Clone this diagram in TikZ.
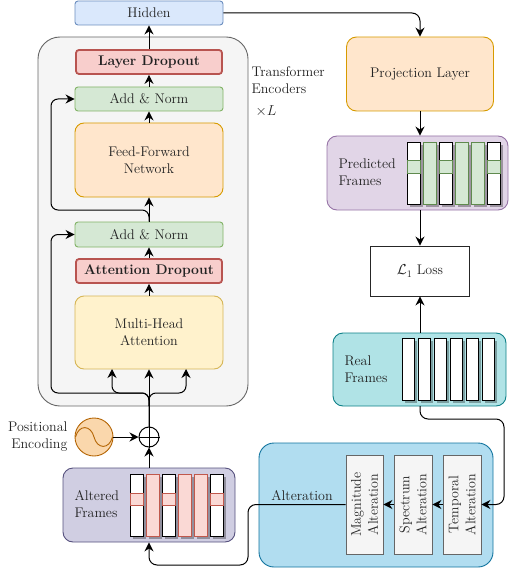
\documentclass[tikz,border=0pt]{standalone}
\usepackage{fontspec}
\usetikzlibrary{arrows.meta}
\definecolor{txt}{HTML}{222222}
\definecolor{hidF}{HTML}{DAE8FC}\definecolor{hidD}{HTML}{6C8EBF}
\definecolor{encF}{HTML}{F5F5F5}\definecolor{encD}{HTML}{666666}
\definecolor{redF}{HTML}{F8CECC}\definecolor{redD}{HTML}{B85450}
\definecolor{grnF}{HTML}{D5E8D4}\definecolor{grnD}{HTML}{82B366}
\definecolor{orgF}{HTML}{FFE6CC}\definecolor{orgD}{HTML}{D79B00}
\definecolor{ylwF}{HTML}{FFF2CC}\definecolor{ylwD}{HTML}{D6B656}
\definecolor{peF}{HTML}{FAD7AC}\definecolor{peD}{HTML}{B46504}
\definecolor{altfF}{HTML}{D0CEE2}\definecolor{altfD}{HTML}{56517E}
\definecolor{prdF}{HTML}{E1D5E7}\definecolor{prdD}{HTML}{9673A6}
\definecolor{realF}{HTML}{B0E3E6}\definecolor{realD}{HTML}{0E8088}
\definecolor{altF}{HTML}{B1DDF0}\definecolor{altD}{HTML}{10739E}
\definecolor{mskF}{HTML}{FAD9D5}\definecolor{mskD}{HTML}{C0584C}
\definecolor{gmskD}{HTML}{5F8A4E}
\tikzset{
  box/.style={draw, rectangle, rounded corners=3pt, inner sep=0pt, line width=0.9pt, align=center, text=txt},
  arr/.style={-{Stealth[length=9pt,width=9pt,inset=3pt]}, line width=1pt},
  shad/.style={fill=black, opacity=0.3},
  wbar/.style={draw=black, fill=white, line width=0.9pt},
}
\begin{document}
\begin{tikzpicture}[x=1pt,y=-1pt,font=\fontsize{14}{17}\selectfont]
\useasboundingbox (0,0) rectangle (509,572);

% encoder container
\node[box, fill=encF, draw=encD, rounded corners=22pt, minimum width=210pt, minimum height=369pt] (enc) at (143,221.5) {};
\node[text=txt, align=left, anchor=west] (enctxt) at (248,80.5) {Transformer\\Encoders};
\node[text=txt] (times) at (266,111) {$\times L$};

\node[box, fill=hidF, draw=hidD, minimum width=148pt, minimum height=24pt] (hid) at (149,13) {Hidden};
\node[box, fill=redF, draw=redD, line width=1.8pt, minimum width=146pt, minimum height=24pt, font=\fontsize{14}{17}\selectfont\bfseries] (ld) at (149,62) {Layer Dropout};
\node[box, fill=grnF, draw=grnD, minimum width=148pt, minimum height=24pt] (an1) at (149,99) {Add \& Norm};
\node[box, fill=orgF, draw=orgD, rounded corners=9pt, minimum width=148pt, minimum height=74pt] (ffn) at (149,160) {Feed-Forward\\Network};
\node[box, fill=grnF, draw=grnD, minimum width=148pt, minimum height=25pt] (an2) at (149,234.5) {Add \& Norm};
\node[box, fill=redF, draw=redD, line width=1.8pt, minimum width=146pt, minimum height=24pt, font=\fontsize{14}{17}\selectfont\bfseries] (ad) at (149,271) {Attention Dropout};
\node[box, fill=ylwF, draw=ylwD, rounded corners=9pt, minimum width=148pt, minimum height=73pt] (mha) at (149,332.5) {Multi-Head\\Attention};

% encoder arrows
\draw[arr] (ld.north) -- (hid.south);
\draw[arr] (an1.north) -- (ld.south);
\draw[arr] (ffn.north) -- (an1.south);
\draw[arr] (an2.north) -- (ffn.south);
\draw[arr] (ad.north) -- (an2.south);
\draw[arr] (mha.north) -- (ad.south);
\draw[arr, rounded corners=7pt] (an2.north) -- (149,210) -- (51,210) -- (51,99) -- (an1.west);

% positional encoding and sum
\node[circle, draw=black, line width=1pt, minimum size=20pt, inner sep=0pt] (op) at (149,437) {};
\draw[line width=1pt] (op.north) -- (op.south) (op.west) -- (op.east);
\node[circle, draw=peD, fill=peF, line width=0.9pt, minimum size=38pt, inner sep=0pt] (pe) at (94,437) {};
\draw[peD, line width=0.9pt] (75.5,437) .. controls (79,424) and (91,425) .. (94,437) .. controls (97,449) and (109,450) .. (112.5,437);
\node[text=txt, align=right, anchor=east] (petxt) at (71,437) {Positional\\Encoding};
\draw[arr] (pe.east) -- (op.west);

% inputs to MHA
\draw[arr, rounded corners=7pt] (op.north) -- (149,393) -- (51,393) -- (51,234.5) -- (an2.west);
\draw[arr, rounded corners=7pt] (149,406) -- (149,393) -- (112,393) -- (112,369);
\draw[arr, rounded corners=7pt] (149,406) -- (149,393) -- (186,393) -- (186,369);
\draw[arr] (op.north) -- (mha.south);

% altered frames
\node[box, fill=altfF, draw=altfD, rounded corners=10pt, minimum width=172pt, minimum height=74pt] (afr) at (149,505) {};
\node[text=txt, align=left, anchor=west] (afrtxt) at (71,504.5) {Altered\\Frames};
\foreach \x in {130,146,162,178,194,210} {\fill[shad] (\x+3,477) rectangle ++(13,62);}
\foreach \x/\t in {130/0,146/1,162/0,178/1,194/1,210/0} {
  \ifnum\t=1
    \draw[draw=mskD, fill=mskF, line width=0.9pt] (\x,474) rectangle ++(13,62);
  \else
    \draw[wbar] (\x,474) rectangle ++(13,62);
    \draw[draw=mskD, fill=mskF, line width=0.9pt] (\x,493) rectangle ++(13,12);
  \fi
}
\draw[arr] (afr.north) -- (op.south);

% right column
\node[box, fill=orgF, draw=orgD, rounded corners=10pt, minimum width=147pt, minimum height=74pt] (proj) at (420,74) {Projection Layer};
\draw[arr, rounded corners=8pt] (hid.east) -- (420,13) -- (proj.north);

\node[box, fill=prdF, draw=prdD, rounded corners=10pt, minimum width=181pt, minimum height=74pt] (pred) at (417.5,173) {};
\node[text=txt, align=left, anchor=west] (predtxt) at (335,172) {Predicted\\Frames};
\foreach \x in {407,423,439,455,471,487} {\fill[shad] (\x+3,145) rectangle ++(13,62);}
\foreach \x/\t in {407/0,423/1,439/0,455/1,471/1,487/0} {
  \ifnum\t=1
    \draw[draw=gmskD, fill=grnF, line width=0.9pt] (\x,142) rectangle ++(13,62);
  \else
    \draw[wbar] (\x,142) rectangle ++(13,62);
    \draw[draw=gmskD, fill=grnF, line width=0.9pt] (\x,160) rectangle ++(13,13);
  \fi
}
\draw[arr] (proj.south) -- (proj.south |- pred.north);

\node[box, fill=white, draw=black!85, rounded corners=0pt, minimum width=99pt, minimum height=50pt] (loss) at (420,271) {$\mathcal{L}_1$ Loss};
\draw[arr] (loss.north |- pred.south) -- (loss.north);

\node[box, fill=realF, draw=realD, rounded corners=10pt, minimum width=173pt, minimum height=73pt] (real) at (419.5,369.5) {};
\node[text=txt, align=left, anchor=west] (realtxt) at (341,369.5) {Real\\Frames};
\foreach \x in {402,418,434,450,466,482} {\fill[shad] (\x+3,341) rectangle ++(12,62);}
\foreach \x in {402,418,434,450,466,482} {\draw[wbar] (\x,338) rectangle ++(12,62);}
\draw[arr] (loss.south |- real.north) -- (loss.south);

% alteration
\node[box, fill=altF, draw=altD, rounded corners=15pt, minimum width=234pt, minimum height=124pt] (alt) at (376,505) {};
\node[box, fill=encF, draw=encD, rounded corners=0pt, minimum width=37pt, minimum height=99pt] (mag) at (364.5,504.5) {};
\node[box, fill=encF, draw=encD, rounded corners=0pt, minimum width=38pt, minimum height=99pt] (spec) at (413,504.5) {};
\node[box, fill=encF, draw=encD, rounded corners=0pt, minimum width=38pt, minimum height=99pt] (temp) at (462,504.5) {};
\node[text=txt, rotate=90, align=center] (magtxt) at (mag.center) {Magnitude\\Alteration};
\node[text=txt, rotate=90, align=center] (spectxt) at (spec.center) {Spectrum\\Alteration};
\node[text=txt, rotate=90, align=center] (temptxt) at (temp.center) {Temporal\\Alteration};
\draw[arr] (temp.west) -- (spec.east);
\draw[arr] (spec.west) -- (mag.east);
\draw[arr, rounded corners=8pt] (420,406) -- (420,419) -- (504,419) -- (504,504.5) -- (temp.east);
\draw[arr, rounded corners=8pt] (mag.west) -- (248,504.5) -- (248,565) -- (149,565) -- (afr.south);
\node[text=txt] (alttxt) at (302,496) {Alteration};
\end{tikzpicture}
\end{document}
